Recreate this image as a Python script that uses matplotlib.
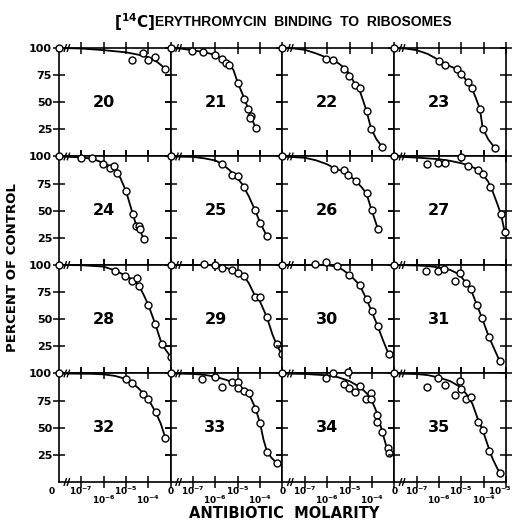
"""
[14C] erythromycin binding to ribosomes: 4x4 grid of dose-response panels.
Values read off the reference figure (log10 molarity, percent of control).
"""

import numpy as np
import matplotlib
matplotlib.use('Agg')
import matplotlib.pyplot as plt
from matplotlib.ticker import NullLocator

plt.rcParams['font.family'] = ['DejaVu Sans']
plt.rcParams['font.weight'] = 'bold'
plt.rcParams['mathtext.default'] = 'bf'

# ---------------------------------------------------------------------------
TITLE_ISO = r'$\left[{}^{14}\mathbf{C}\right]$'
TITLE     = 'ERYTHROMYCIN  BINDING  TO  RIBOSOMES'
YLABEL    = 'PERCENT OF CONTROL'
XLABEL    = 'ANTIBIOTIC  MOLARITY'

PANEL_IDS   = list(range(20, 36))
CONTROL_PCT = 100            # zero-drug control, drawn at the "0" position
ZERO_POS    = 1e-8           # where the broken log axis shows "0"
DECADES     = [1e-7, 1e-6, 1e-5, 1e-4, 1e-3]
YTICKS      = [25, 50, 75, 100]

# measured points: log10(M), percent of control
p20_logm = [-4.73, -4.26, -4.04, -3.71, -3.24]
p20_pct  = [88.5, 95.7, 89, 92, 81]
p21_logm = [-7.05, -6.55, -6.04, -5.71, -5.51, -5.38, -5.0, -4.71, -4.53, -4.43, -4.46, -4.2]
p21_pct  = [97.6, 96.4, 93.6, 89.7, 86, 84.2, 67.9, 52.7, 43.4, 37.6, 35.5, 26.4]
p22_logm = [-6.05, -5.75, -5.25, -5.01, -4.76, -4.53, -4.24, -4.04, -3.55]
p22_pct  = [90.3, 89, 80.9, 74.5, 65.5, 63.3, 41.8, 25.2, 9.1]
p23_logm = [-6.0, -5.71, -5.21, -5.0, -4.72, -4.53, -4.17, -4.04, -3.51]
p23_pct  = [88.2, 84.2, 80.3, 76.4, 68.2, 63.3, 43.9, 25.2, 8.2]
p24_logm = [-7.03, -6.51, -6.02, -5.71, -5.53, -5.41, -5.01, -4.7, -4.55, -4.4, -4.38, -4.2]
p24_pct  = [98.6, 98.6, 92.9, 89.5, 91, 85, 68, 46.8, 36.2, 35.6, 33.2, 23.5]
p25_logm = [-5.72, -5.25, -5.01, -4.73, -4.24, -4.01, -3.71]
p25_pct  = [93.2, 82.9, 82, 72, 50.7, 38.6, 27.1]
p26_logm = [-5.71, -5.25, -5.05, -4.73, -4.24, -4.01, -3.73]
p26_pct  = [88.6, 87.1, 83.2, 77.1, 66.5, 50.5, 33.2]
p27_logm = [-6.54, -6.04, -5.73, -5.03, -4.72, -4.24, -4.02, -3.71, -3.23, -3.06]
p27_pct  = [92.9, 93.8, 94.4, 99.3, 91.6, 87.5, 84.1, 72, 47, 30.2]
p28_logm = [-5.51, -5.04, -4.74, -4.52, -4.43, -4.0, -3.71, -3.4, -3.0]
p28_pct  = [94.5, 89.4, 85.5, 87.6, 80.9, 62.7, 46, 27, 15.5]
p29_logm = [-6.5, -6.0, -5.72, -5.25, -5.01, -4.71, -4.24, -4.01, -3.68, -3.25, -3.04]
p29_pct  = [100.5, 100, 97, 95.5, 92.5, 89.4, 70.9, 70.3, 52.1, 27, 17.9]
p30_logm = [-6.56, -6.05, -5.56, -5.02, -4.55, -4.24, -4.01, -3.74, -3.25]
p30_pct  = [100.5, 103, 99, 91.2, 81.5, 68.5, 57.3, 43.6, 17.9]
p31_logm = [-6.56, -6.06, -5.78, -5.29, -5.04, -4.8, -4.58, -4.3, -4.08, -3.77, -3.29]
p31_pct  = [94.5, 94.8, 96.4, 84.8, 93, 83, 77.9, 62.7, 51.2, 33.6, 11.8]
p32_logm = [-5.01, -4.73, -4.22, -4.01, -3.68, -3.24]
p32_pct  = [94.5, 91.5, 81.5, 76.6, 64.3, 40.6]
p33_logm = [-6.58, -6.0, -5.72, -5.25, -5.01, -5.01, -4.73, -4.51, -4.21, -4.0, -3.69, -3.25]
p33_pct  = [94.7, 96.5, 87.6, 91.9, 91.9, 86.4, 83.9, 81.7, 67.2, 54.1, 27.9, 17.2]
p34_logm = [-6.05, -5.72, -5.05, -5.27, -5.03, -4.76, -4.54, -4.28, -4.06, -4.06, -3.77, -3.76,
            -3.55, -3.26, -3.25]
p34_pct  = [95.5, 100.5, 101.5, 90.5, 86.3, 83, 88.8, 76.5, 82, 76.8, 62, 55, 46.4, 31.3, 26.3]
p35_logm = [-6.55, -6.06, -5.74, -5.27, -5.04, -5.03, -4.77, -4.55, -4.26, -4.04, -3.74, -3.27]
p35_pct  = [87.5, 95.6, 89.6, 80.2, 93.2, 85.4, 76.5, 78.3, 55.5, 47.7, 28.3, 8]

# hand-drawn curves (log10(M), percent)
c20_logm = [-8, -7, -6, -5, -4.5, -4, -3.6, -3.24]
c20_pct  = [100, 99.5, 98, 96, 94, 91.5, 87, 81]
c21_logm = [-8, -7.5, -7, -6.5, -6, -5.7, -5.4, -5.2, -5.0, -4.7, -4.5, -4.4, -4.2]
c21_pct  = [100, 99.3, 97.8, 96.2, 93.5, 89.8, 85, 80, 68, 53, 42, 36, 26.4]
c22_logm = [-8, -7.5, -7, -6.5, -6, -5.5, -5.2, -5, -4.75, -4.55, -4.4, -4.24, -4.04, -3.8, -3.55]
c22_pct  = [100, 99.6, 98.3, 95, 91, 86, 81, 76, 66.5, 61, 52, 42, 26, 16, 9]
c23_logm = [-8, -7.5, -7, -6.5, -6, -5.7, -5.2, -5, -4.72, -4.53, -4.35, -4.17, -4.04, -3.8, -3.51]
c23_pct  = [100, 99.5, 98, 94.5, 88.8, 85, 80.5, 76.5, 68.5, 63, 54, 44, 26, 16, 8.2]
c24_logm = [-8, -7, -6.5, -6, -5.7, -5.45, -5.25, -5.0, -4.7, -4.55, -4.42, -4.2]
c24_pct  = [100, 99.2, 97.8, 94, 91, 87, 80, 68, 47, 37, 34, 23.5]
c25_logm = [-8, -7, -6.5, -6, -5.72, -5.4, -5.1, -4.8, -4.5, -4.24, -4.0, -3.71]
c25_pct  = [100, 99.6, 98.3, 96.3, 93.3, 88, 82, 74.5, 63, 51, 39, 27]
c26_logm = [-8, -7, -6.5, -6, -5.71, -5.3, -5.05, -4.73, -4.45, -4.24, -4.01, -3.73]
c26_pct  = [100, 98.8, 96.5, 92.8, 89.5, 86.3, 83.4, 77.5, 71.5, 65.5, 50.5, 33.2]
c27_logm = [-8, -7, -6, -5.5, -5, -4.7, -4.4, -4.1, -3.8, -3.6, -3.4, -3.23, -3.06]
c27_pct  = [100, 99, 97.5, 96, 93.8, 92, 89.3, 85, 77, 68, 57, 47, 31]
c28_logm = [-8, -7, -6, -5.5, -5, -4.7, -4.45, -4.2, -4, -3.7, -3.4, -3.2, -3.0]
c28_pct  = [100, 99.8, 98.5, 95, 90, 86.5, 82, 72, 63, 46, 27, 21, 15.5]
c29_logm = [-8, -6.5, -6, -5.5, -5, -4.7, -4.5, -4.24, -4.0, -3.7, -3.45, -3.25, -3.04]
c29_pct  = [100, 100, 99.6, 97.3, 93.3, 89, 83, 72, 66, 52, 36, 26, 18]
c30_logm = [-8, -6.5, -6, -5.56, -5.3, -5.02, -4.8, -4.55, -4.24, -4.01, -3.74, -3.5, -3.25]
c30_pct  = [100, 100, 99.8, 98.5, 95.5, 91.2, 87, 81.5, 68.5, 57.3, 43.6, 30.5, 17.9]
c31_logm = [-8, -7, -6.5, -6, -5.5, -5.2, -5.0, -4.8, -4.58, -4.3, -4.08, -3.77, -3.5, -3.29]
c31_pct  = [100, 99.6, 99, 97.8, 95.5, 92.5, 89, 84, 78, 63, 51.5, 34, 21.5, 11.8]
c32_logm = [-8, -6.5, -6, -5.5, -5.01, -4.73, -4.45, -4.22, -4.01, -3.68, -3.45, -3.24]
c32_pct  = [100, 99.7, 99.2, 97.8, 95, 91.5, 86.5, 81.5, 76.5, 64.5, 54, 40.6]
c33_logm = [-8, -7, -6.5, -6, -5.5, -5, -4.73, -4.51, -4.21, -4.0, -3.85, -3.69, -3.5, -3.25]
c33_pct  = [100, 99.6, 98.8, 97, 94, 90, 85, 81.5, 68, 54, 39, 28, 22.5, 17.2]
c34_logm = [-8, -7, -6, -5.5, -5, -4.5, -4.2, -4.0, -3.8, -3.6, -3.45, -3.3, -3.22]
c34_pct  = [100, 99.6, 98.3, 96.5, 93, 87, 81, 75, 65, 51, 40, 29, 24]
c35_logm = [-8, -7, -6.5, -6, -5.5, -5.04, -4.77, -4.5, -4.26, -4.04, -3.8, -3.6, -3.4, -3.27]
c35_pct  = [100, 99.5, 98.5, 96.3, 93, 87.5, 81, 72, 58, 47.7, 33, 21.5, 13, 8]
# ---------------------------------------------------------------------------

panels = [
    (20, p20_logm, p20_pct, c20_logm, c20_pct),
    (21, p21_logm, p21_pct, c21_logm, c21_pct),
    (22, p22_logm, p22_pct, c22_logm, c22_pct),
    (23, p23_logm, p23_pct, c23_logm, c23_pct),
    (24, p24_logm, p24_pct, c24_logm, c24_pct),
    (25, p25_logm, p25_pct, c25_logm, c25_pct),
    (26, p26_logm, p26_pct, c26_logm, c26_pct),
    (27, p27_logm, p27_pct, c27_logm, c27_pct),
    (28, p28_logm, p28_pct, c28_logm, c28_pct),
    (29, p29_logm, p29_pct, c29_logm, c29_pct),
    (30, p30_logm, p30_pct, c30_logm, c30_pct),
    (31, p31_logm, p31_pct, c31_logm, c31_pct),
    (32, p32_logm, p32_pct, c32_logm, c32_pct),
    (33, p33_logm, p33_pct, c33_logm, c33_pct),
    (34, p34_logm, p34_pct, c34_logm, c34_pct),
    (35, p35_logm, p35_pct, c35_logm, c35_pct),
]


def break_marks(ax, y):
    # little "//" that shows the axis is broken between 0 and 1e-8
    tr = ax.get_xaxis_transform()
    for x0 in (-7.72, -7.58):
        ax.plot([10 ** (x0 - 0.05), 10 ** (x0 + 0.05)], [y - 0.03, y + 0.03],
                color='black', lw=1.0, transform=tr, clip_on=False, zorder=5)


def main():
    fig, axes = plt.subplots(4, 4, figsize=(5.14, 5.25), dpi=100,
                             sharex=True, sharey=True,
                             gridspec_kw=dict(hspace=0, wspace=0))
    fig.subplots_adjust(left=0.1148, right=0.9844, top=0.9086, bottom=0.0819)

    for k, (ax, (num, pm, pp, cm, cp)) in enumerate(zip(axes.flat, panels)):
        row, col = divmod(k, 4)
        ax.set_xscale('log')
        ax.set_xlim(ZERO_POS, 1e-3)
        ax.set_ylim(0, 100)
        ax.set_xticks(DECADES)
        ax.xaxis.set_minor_locator(NullLocator())
        ax.set_yticks(YTICKS)
        ax.tick_params(axis='both', direction='inout', length=8, width=1.1,
                       top=True, right=True, labelbottom=False, labelleft=False,
                       labelsize=8)
        for sp in ax.spines.values():
            sp.set_linewidth(1.2)

        ax.plot(10.0 ** np.array(cm), cp, color='black', lw=1.3,
                clip_on=False, zorder=3)
        xs = [ZERO_POS] + list(10.0 ** np.array(pm))
        ys = [CONTROL_PCT] + list(pp)
        ax.plot(xs, ys, 'o', ms=5, mfc='white', mec='black', mew=1.0,
                clip_on=False, zorder=4)

        ax.text(0.40, 0.50, str(num), transform=ax.transAxes,
                ha='center', va='center', fontsize=11.5)

        break_marks(ax, 1.0)

        if col == 0:
            ax.tick_params(labelleft=True, pad=1)

        if row == 3:
            break_marks(ax, 0.0)
            labels = [(ZERO_POS, '0', 0), (1e-7, r'$10^{-7}$', 0),
                      (1e-6, r'$10^{-6}$', 1), (1e-5, r'$10^{-5}$', 0),
                      (1e-4, r'$10^{-4}$', 1)]
            if col == 3:
                labels.append((1e-3, r'$10^{-3}$', 0))
            for x, lab, low in labels:
                dx = 0
                if col == 0 and lab == '0':
                    dx = -5
                if x == 1e-3:
                    dx = -4
                ax.annotate(lab, xy=(x, 0), xycoords=('data', 'axes fraction'),
                            xytext=(dx, -6.5 - 6.5 * low), textcoords='offset points',
                            ha='center', va='center', fontsize=6.5)

    fig.text(0.222, 0.958, TITLE_ISO, ha='left', va='center', fontsize=11)
    fig.text(0.302, 0.958, TITLE, ha='left', va='center', fontsize=10,
             family=['Liberation Sans', 'DejaVu Sans'])
    fig.text(0.024, 0.49, YLABEL, rotation=90, ha='center', va='center', fontsize=9.5)
    fig.text(0.553, 0.022, XLABEL, ha='center', va='center', fontsize=10.5)

    fig.savefig('out.png', dpi=100)
    plt.close(fig)


if __name__ == '__main__':
    main()
